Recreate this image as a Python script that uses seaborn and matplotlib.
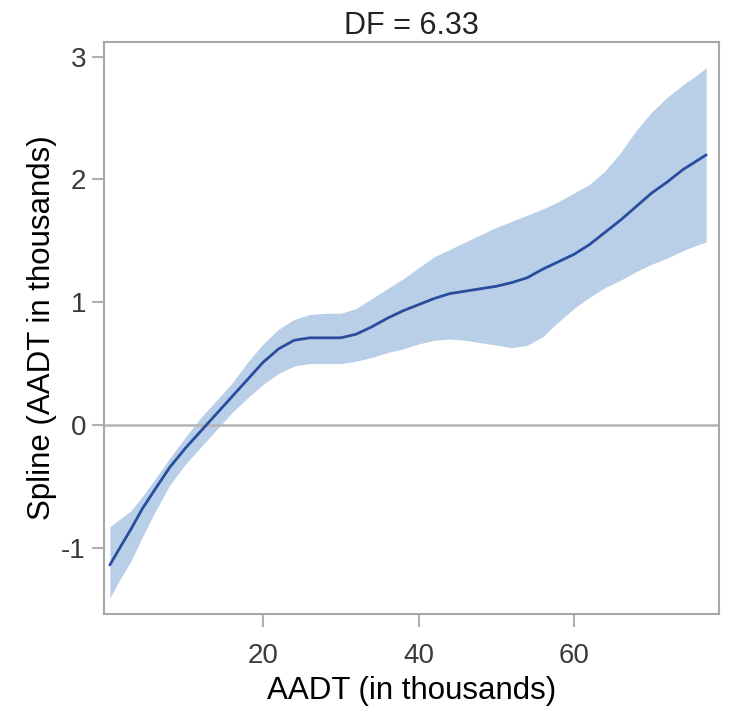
import matplotlib
matplotlib.use("Agg")
import matplotlib.pyplot as plt
import seaborn as sns
import pandas as pd

aadt = [0.3, 1.5, 3, 4.5, 6, 8, 10, 12, 14, 16, 18, 20, 22, 24, 26, 28, 30, 32,
        34, 36, 38, 40, 42, 44, 46, 48, 50, 52, 54, 56, 58, 60, 62, 64, 66, 68,
        70, 72, 74, 76, 77]
spline = [-1.14, -1.01, -0.85, -0.68, -0.535, -0.345, -0.19, -0.05, 0.09, 0.23,
          0.37, 0.51, 0.62, 0.69, 0.71, 0.71, 0.71, 0.74, 0.80, 0.87, 0.93, 0.98,
          1.03, 1.07, 1.09, 1.11, 1.13, 1.16, 1.20, 1.27, 1.33, 1.39, 1.47, 1.57,
          1.67, 1.78, 1.89, 1.98, 2.08, 2.16, 2.20]
upper = [-0.83, -0.77, -0.70, -0.58, -0.45, -0.27, -0.10, 0.06, 0.20, 0.34,
         0.51, 0.66, 0.78, 0.86, 0.90, 0.91, 0.91, 0.95, 1.03, 1.11, 1.19, 1.28,
         1.37, 1.43, 1.49, 1.55, 1.61, 1.66, 1.71, 1.76, 1.82, 1.89, 1.96, 2.07,
         2.22, 2.40, 2.55, 2.67, 2.77, 2.86, 2.91]
lower = [-1.41, -1.27, -1.11, -0.91, -0.72, -0.49, -0.32, -0.18, -0.04, 0.10,
         0.22, 0.33, 0.42, 0.48, 0.50, 0.50, 0.50, 0.52, 0.55, 0.59, 0.62, 0.66,
         0.69, 0.70, 0.69, 0.67, 0.65, 0.63, 0.65, 0.72, 0.84, 0.95, 1.04, 1.12,
         1.18, 1.25, 1.31, 1.36, 1.42, 1.47, 1.49]
x_ticks = [20, 40, 60]
y_ticks = [-1, 0, 1, 2, 3]

sns.set_style("white")
plt.rcParams['font.family'] = ['Liberation Sans', 'DejaVu Sans']
plt.rcParams['xtick.bottom'] = True
plt.rcParams['ytick.left'] = True

df = pd.DataFrame({"AADT": aadt, "Spline": spline, "Upper": upper, "Lower": lower})

fig = plt.figure(figsize=(7.29, 7.19), dpi=100)
ax = fig.add_axes([0.1427, 0.146, 0.8436, 0.7956])

ax.fill_between(df["AADT"], df["Lower"], df["Upper"], color="#b9cfe7", linewidth=0, zorder=1)
sns.lineplot(data=df, x="AADT", y="Spline", ax=ax, color="#2a4c9e", linewidth=2.0, zorder=3)
ax.axhline(0, color="#b4b4b4", linewidth=1.8, zorder=2)

ax.set_xlim(-0.45, 78.65)
ax.set_ylim(-1.54, 3.12)
ax.set_xticks(x_ticks)
ax.set_yticks(y_ticks)
ax.set_xticklabels([str(v) for v in x_ticks])
ax.set_yticklabels([str(v) for v in y_ticks])

for s in ax.spines.values():
    s.set_color("#a8a8a8")
    s.set_linewidth(1.5)
    s.set_visible(True)

ax.tick_params(axis="both", which="major", direction="out", length=9, width=1.5,
               color="#b0b0b0", labelsize=20, labelcolor="#3a3a3a", pad=4,
               left=True, bottom=True)
ax.tick_params(axis="x", pad=12)

ax.set_xlabel("AADT (in thousands)", fontsize=22.5, color="black", labelpad=5)
ax.set_ylabel("Spline (AADT in thousands)", fontsize=22.5, color="black", labelpad=3)
ax.set_title("DF = 6.33", fontsize=22, color="#222222", pad=6)

fig.savefig("out.png", dpi=100)
